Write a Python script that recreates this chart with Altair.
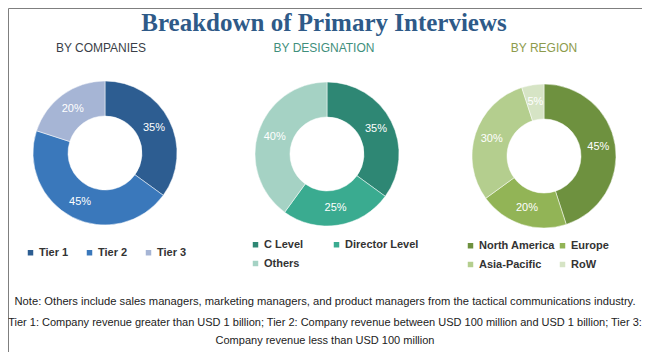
import altair as alt
import pandas as pd

# ---- data ----
title_text = "Breakdown of Primary Interviews"
panel_titles = ["BY COMPANIES", "BY DESIGNATION", "BY REGION"]

companies = ["Tier 1", "Tier 2", "Tier 3"]
company_share = [35, 45, 20]

designations = ["C Level", "Director Level", "Others"]
designation_share = [35, 25, 40]

regions = ["North America", "Europe", "Asia-Pacific", "RoW"]
region_share = [45, 20, 30, 5]

notes = [
    "Note: Others include sales managers, marketing managers, and product managers from the tactical communications industry.",
    "Tier 1: Company revenue greater than USD 1 billion; Tier 2: Company revenue between USD 100 million and USD 1 billion; Tier 3:",
    "Company revenue less than USD 100 million",
]

# ---- styles ----
company_colors = ["#2d5d91", "#3a78bb", "#a6b5d5"]
designation_colors = ["#2e8774", "#3aab90", "#a5d2c4"]
region_colors = ["#6e913f", "#92b456", "#b4ce8e", "#d6e4c5"]
title_colors = ["#3a3f48", "#3f8f7c", "#8d9b4c"]

W, H = 634, 344
OFF = 8  # page margin offset
SANS = "Liberation Sans, Arial, sans-serif"

OUTER, INNER, LABEL_R = 72, 37, 55


def donut(cats, vals, colors, cx, cy, legend):
    df = pd.DataFrame({
        "cat": cats,
        "val": vals,
        "idx": list(range(len(cats))),
        "label": [f"{v}%" for v in vals],
    })
    base = alt.Chart(df).encode(
        theta=alt.Theta("val:Q", stack=True),
        order=alt.Order("idx:Q", sort="ascending"),
        x=alt.value(cx - OFF),
        y=alt.value(cy - OFF),
    )
    arc = base.mark_arc(innerRadius=INNER, outerRadius=OUTER, stroke="white", strokeWidth=0.5).encode(
        color=alt.Color("cat:N", scale=alt.Scale(domain=cats, range=colors), legend=legend)
    )
    txt = base.mark_text(radius=LABEL_R, color="white", fontSize=11, font=SANS).encode(text="label:N")
    return arc + txt


def leg(x, y, cols, colpad, rowpad=5):
    return alt.Legend(
        title=None, orient="none", legendX=x - OFF, legendY=y - OFF,
        direction="horizontal", columns=cols, symbolType="square", symbolSize=30,
        symbolStrokeWidth=0, labelFont=SANS, labelFontSize=11, labelFontWeight="bold",
        labelColor="#333333", columnPadding=colpad, rowPadding=rowpad, labelOffset=3,
        padding=0, symbolOffset=0,
    )


d1 = donut(companies, company_share, company_colors, 105, 153, leg(25, 247, 3, 15))
d2 = donut(designations, designation_share, designation_colors, 327, 154, leg(250, 239, 2, 27, 7))
d3 = donut(regions, region_share, region_colors, 544, 156, leg(465, 240, 2, 2, 7))


def text_layer(s, x, y, size, color, font, weight="normal", baseline="middle"):
    return alt.Chart(alt.Data(values=[{}])).mark_text(
        text=s, fontSize=size, color=color, font=font, fontWeight=weight,
        align="center", baseline=baseline,
    ).encode(x=alt.value(x - OFF), y=alt.value(y - OFF))


texts = [
    text_layer(title_text, 324, 31, 25, "#2e5a88", "Liberation Serif, DejaVu Serif, serif", "bold", "alphabetic"),
    text_layer(panel_titles[0], 101, 48, 12, title_colors[0], SANS),
    text_layer(panel_titles[1], 324, 48, 12, title_colors[1], SANS),
    text_layer(panel_titles[2], 544, 48, 12, title_colors[2], SANS),
    text_layer(notes[0], 325, 302, 11.2, "#222222", SANS),
    text_layer(notes[1], 325, 323, 11, "#222222", SANS),
    text_layer(notes[2], 325, 341, 11, "#222222", SANS),
]

chart = alt.layer(d1, d2, d3, *texts).resolve_scale(
    color="independent", theta="independent"
).properties(
    width=W, height=H, padding=0,
    autosize=alt.AutoSizeParams(type="none"),
).configure_view(stroke="#7f7f7f", strokeWidth=1)

chart.save("out.html", embed_options={"renderer": "svg", "actions": False})
